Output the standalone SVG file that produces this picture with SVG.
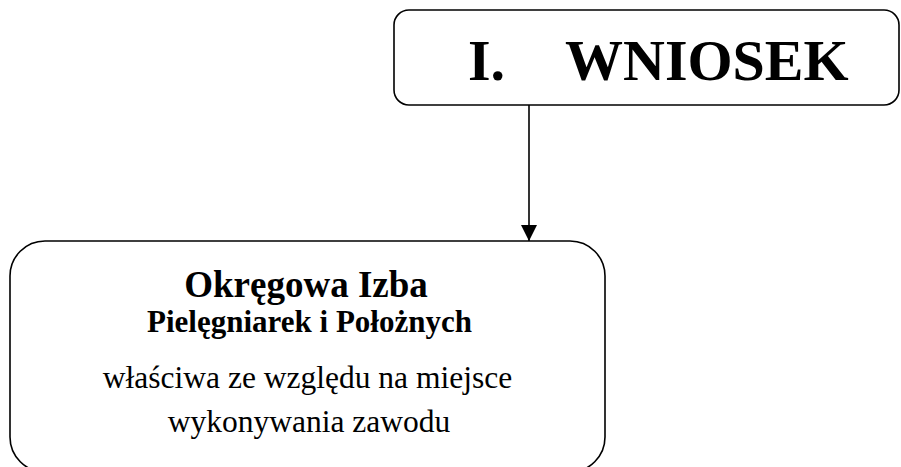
<svg xmlns="http://www.w3.org/2000/svg" width="901" height="467" viewBox="0 0 901 467">
<style>
.box{fill:#fff;stroke:#000;stroke-width:1.6}
.t{font-family:"Liberation Serif","Times New Roman",serif;fill:#000}
.b{font-weight:bold}
.conn{stroke:#000;stroke-width:1.6;fill:none}
</style>
<defs>
<marker id="arr" markerWidth="16" markerHeight="16" refX="16" refY="8" orient="auto" markerUnits="userSpaceOnUse">
<path d="M0,0 L16,8 L0,16 Z" fill="#000"/>
</marker>
</defs>
<rect width="901" height="467" fill="#fff"/>
<g id="connectors">
<line class="conn" x1="529" y1="105" x2="529" y2="241" marker-end="url(#arr)"/>
</g>
<g id="wniosek">
<rect class="box" x="394" y="10" width="505" height="95" rx="15" ry="15"/>
<text class="t b" y="80" font-size="58"><tspan x="468">I.</tspan><tspan x="565">WNIOSEK</tspan></text>
</g>
<g id="izba">
<rect class="box" x="10" y="241" width="595" height="231" rx="35" ry="35"/>
<text class="t b" x="306" y="297" font-size="37" text-anchor="middle">Okręgowa Izba</text>
<text class="t b" x="309.5" y="332" font-size="31" text-anchor="middle">Pielęgniarek i Położnych</text>
<text class="t" x="307.5" y="388" font-size="31.5" text-anchor="middle">właściwa ze względu na miejsce</text>
<text class="t" x="309" y="432" font-size="31.5" text-anchor="middle">wykonywania zawodu</text>
</g>
</svg>
